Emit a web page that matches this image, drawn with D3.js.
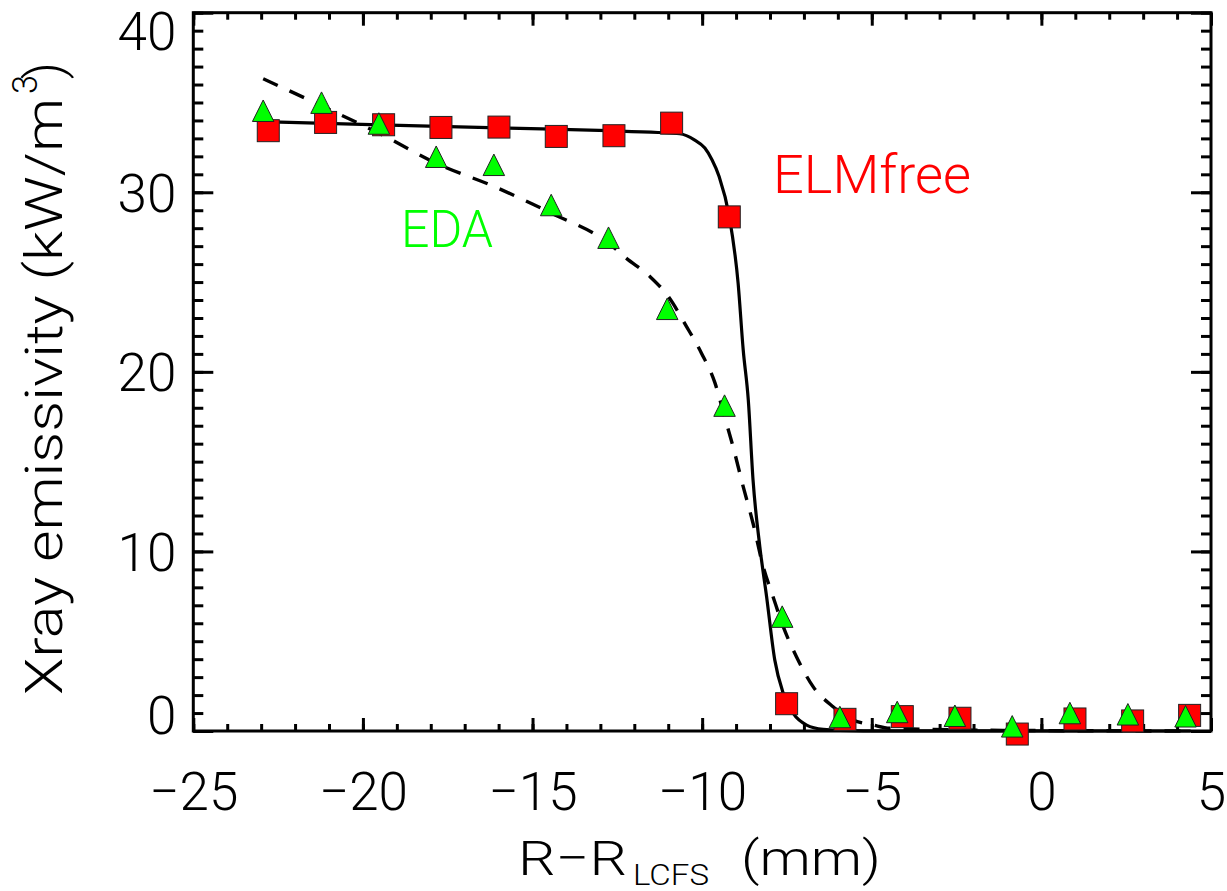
<!DOCTYPE html>
<html>
<head>
<meta charset="utf-8">
<script src="https://cdn.jsdelivr.net/npm/d3@7"></script>
<style>
  html, body { margin: 0; padding: 0; background: #fff; }
  svg { display: block; }
  text { font-family: Roboto, "Liberation Sans", sans-serif; font-weight: 300; fill: #000; }
</style>
</head>
<body>
<svg id="chart" width="1227" height="891"></svg>
<script>
// ---------------- data ----------------
const elmX = [-22.79, -21.10, -19.39, -17.70, -15.99, -14.30, -12.60, -10.90, -9.20, -7.51, -5.79, -4.10, -2.40, -0.71, 0.99, 2.69, 4.37];
const elmY = [33.43, 33.89, 33.76, 33.61, 33.63, 33.11, 33.15, 33.85, 28.63, 1.52, 0.65, 0.80, 0.71, -0.17, 0.67, 0.56, 0.87];
const edaX = [-22.94, -21.22, -19.53, -17.84, -16.14, -14.45, -12.76, -11.03, -9.34, -7.64, -5.94, -4.25, -2.55, -0.86, 0.84, 2.55, 4.25];
const edaY = [34.54, 34.99, 33.83, 31.98, 31.53, 29.29, 27.47, 23.51, 18.12, 6.37, 0.78, 1.06, 0.85, 0.26, 1.00, 0.93, 0.82];

// fit curves
const elmFitX = [-22.97, -19.5, -15.71, -12.76, -11.3, -10.66, -10.23, -9.92, -9.71, -9.50, -9.20, -8.94, -8.79, -8.64, -8.50, -8.30, -8.10, -7.86, -7.61, -7.32, -6.92, -6.43, -5.94, -4.5, 4.4];
const elmFitY = [33.93, 33.75, 33.57, 33.43, 33.33, 33.26, 32.92, 32.46, 31.81, 30.88, 28.65, 24.94, 21.23, 18.44, 13.98, 10.27, 7.48, 3.96, 2.10, 0.99, 0.33, 0.09, 0.04, 0.01, 0.0];
const edaFitX = [-22.94, -21.18, -19.50, -17.81, -16.13, -14.45, -12.76, -12.24, -11.54, -11.0, -10.46, -10.02, -9.62, -9.34, -9.09, -8.79, -8.50, -8.20, -7.91, -7.61, -7.22, -6.73, -6.14, -5.55, -4.96, -4.47, -3.19, -1.5, 4.4];
const edaFitY = [36.32, 34.78, 33.26, 31.59, 30.32, 28.84, 27.17, 26.33, 25.31, 24.2, 22.52, 21.04, 19.37, 17.51, 15.84, 13.61, 11.57, 9.15, 7.48, 5.81, 4.14, 2.47, 1.35, 0.61, 0.33, 0.15, 0.09, 0.04, 0.0];

const xMajor = [-25, -20, -15, -10, -5, 0, 5];
const yMajor = [0, 10, 20, 30, 40];
const xMinor = d3.range(-25, 5.01, 1);
const yMinor = d3.range(0, 40.01, 1);

const labelELM = "ELMfree";
const labelEDA = "EDA";

// ---------------- layout ----------------
const L = 193.3, R = 1211, T = 12.7, B = 731;
const svg = d3.select("#chart");
const x = d3.scaleLinear().domain([-25, 5]).range([L, R]);
const y = d3.scaleLinear().domain([0, 40]).range([B, T]);

const fmt = d => (d < 0 ? "\u2212" + Math.abs(d) : String(d));

function styleAxis(g) {
  g.select(".domain").remove();
  g.selectAll(".tick line").attr("stroke", "#000").attr("stroke-width", 3);
}
// minor ticks (all four sides, inward)
svg.append("g").attr("transform", `translate(0,${B})`)
  .call(d3.axisBottom(x).tickValues(xMinor).tickSize(-7).tickFormat(""))
  .call(styleAxis);
svg.append("g").attr("transform", `translate(0,${T})`)
  .call(d3.axisTop(x).tickValues(xMinor).tickSize(-7).tickFormat(""))
  .call(styleAxis);
svg.append("g").attr("transform", `translate(${L},0)`)
  .call(d3.axisLeft(y).tickValues(yMinor).tickSize(-10).tickFormat(""))
  .call(styleAxis);
svg.append("g").attr("transform", `translate(${R},0)`)
  .call(d3.axisRight(y).tickValues(yMinor).tickSize(-10).tickFormat(""))
  .call(styleAxis);

// major ticks
const xb = svg.append("g").attr("transform", `translate(0,${B})`)
  .call(d3.axisBottom(x).tickValues(xMajor).tickSize(-13).tickFormat(fmt))
  .call(styleAxis);
xb.selectAll(".tick text")
  .attr("y", 79).attr("dy", null)
  .style("font-size", "53px").style("font-family", "Roboto, 'Liberation Sans', sans-serif").style("font-weight", 300)
  .attr("fill", "#000");
svg.append("g").attr("transform", `translate(0,${T})`)
  .call(d3.axisTop(x).tickValues(xMajor).tickSize(-13).tickFormat(""))
  .call(styleAxis);
const yl = svg.append("g").attr("transform", `translate(${L},0)`)
  .call(d3.axisLeft(y).tickValues(yMajor).tickSize(-20).tickFormat(fmt))
  .call(styleAxis);
yl.selectAll(".tick text")
  .attr("x", -17)
  .attr("dy", d => d === 40 ? "0.70em" : d === 0 ? "0.04em" : "0.36em")
  .style("font-size", "53px").style("font-family", "Roboto, 'Liberation Sans', sans-serif").style("font-weight", 300)
  .attr("fill", "#000");
svg.append("g").attr("transform", `translate(${R},0)`)
  .call(d3.axisRight(y).tickValues(yMajor).tickSize(-20).tickFormat(""))
  .call(styleAxis);

// frame
svg.append("rect").attr("x", L).attr("y", T).attr("width", R - L).attr("height", B - T)
  .attr("fill", "none").attr("stroke", "#000").attr("stroke-width", 3);

// curves
const plot = svg.append("g");
const line = d3.line().x(d => x(d[0])).y(d => y(d[1])).curve(d3.curveMonotoneX);
plot.append("path").datum(elmFitX.map((v, i) => [v, elmFitY[i]]))
  .attr("d", line).attr("fill", "none").attr("stroke", "#000").attr("stroke-width", 3.2);
plot.append("path").datum(edaFitX.map((v, i) => [v, edaFitY[i]]))
  .attr("d", line).attr("fill", "none").attr("stroke", "#000").attr("stroke-width", 3.4)
  .attr("stroke-dasharray", "16,13");

// markers
const sq = 22;
plot.selectAll("rect.elm").data(elmX.map((v, i) => [v, elmY[i]])).join("rect")
  .attr("class", "elm")
  .attr("x", d => x(d[0]) - sq / 2).attr("y", d => y(d[1]) - sq / 2)
  .attr("width", sq).attr("height", sq)
  .attr("fill", "#ff0000").attr("stroke", "#222").attr("stroke-width", 1);
const tw = 21.5, th = 21.5;
plot.selectAll("path.eda").data(edaX.map((v, i) => [v, edaY[i]])).join("path")
  .attr("class", "eda")
  .attr("d", d => {
    const cx = x(d[0]), cy = y(d[1]);
    return `M${cx},${cy - th / 2}L${cx + tw / 2},${cy + th / 2}L${cx - tw / 2},${cy + th / 2}Z`;
  })
  .attr("fill", "#00ff00").attr("stroke", "#222").attr("stroke-width", 1);

// annotations
svg.append("text").attr("x", 773).attr("y", 193).text(labelELM)
  .style("fill", "#ff0000").style("font-size", "53px")
  .attr("textLength", 198).attr("lengthAdjust", "spacingAndGlyphs");
svg.append("text").attr("x", 401).attr("y", 247).text(labelEDA)
  .style("fill", "#00ff00").style("font-size", "52.5px")
  .attr("textLength", 92).attr("lengthAdjust", "spacingAndGlyphs");

// x title
svg.append("text").attr("x", 518).attr("y", 875).text("R\u2212R")
  .style("font-size", "49px").attr("textLength", 109).attr("lengthAdjust", "spacingAndGlyphs");
svg.append("text").attr("x", 633).attr("y", 885).text("LCFS")
  .style("font-size", "29px").attr("textLength", 76).attr("lengthAdjust", "spacingAndGlyphs");
svg.append("text").attr("x", 741).attr("y", 875).text("(mm)")
  .style("font-size", "49px").attr("textLength", 140).attr("lengthAdjust", "spacingAndGlyphs");

// y title
svg.append("text").attr("transform", "translate(62,695) rotate(-90)").text("Xray emissivity (kW/m")
  .style("font-size", "52px").attr("textLength", 597).attr("lengthAdjust", "spacingAndGlyphs");
svg.append("text").attr("transform", "translate(37,94) rotate(-90)").text("3")
  .style("font-size", "35px").attr("textLength", 19).attr("lengthAdjust", "spacingAndGlyphs");
svg.append("text").attr("transform", "translate(62,79) rotate(-90)").text(")")
  .style("font-size", "52px");
</script>
</body>
</html>
